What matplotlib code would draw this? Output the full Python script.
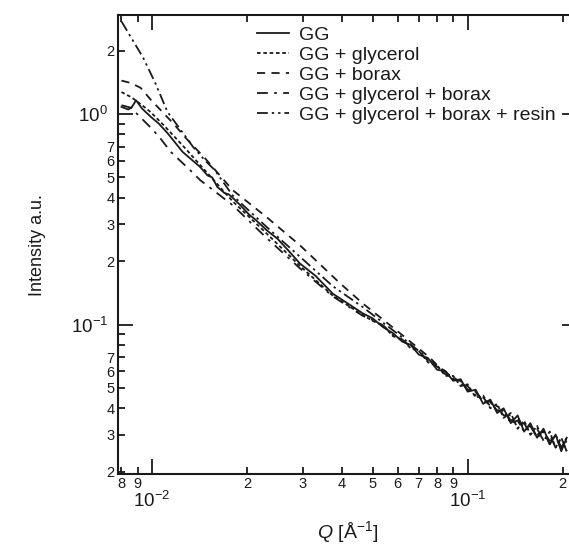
import matplotlib
matplotlib.use('Agg')
import matplotlib.pyplot as plt
from matplotlib.ticker import NullFormatter, NullLocator

plt.rcParams['font.family'] = ['Liberation Sans', 'DejaVu Sans']
plt.rcParams['mathtext.fontset'] = 'custom'
plt.rcParams['mathtext.rm'] = 'Liberation Sans'
plt.rcParams['mathtext.it'] = 'Liberation Sans:italic'

# --------------------------------------------------------------------------------------
# Data

# shared high-Q part, values typed with the visible scatter
qTail = [0.050, 0.054, 0.058, 0.062, 0.066, 0.070, 0.075, 0.080, 0.085, 0.090, 0.095,
         0.100, 0.106, 0.112, 0.118, 0.124, 0.130, 0.137, 0.144, 0.151, 0.158, 0.166,
         0.174, 0.182, 0.190, 0.198, 0.206]

# GG
qGG = [0.0080, 0.0084, 0.0086, 0.0089, 0.0093, 0.0099, 0.0105, 0.0112, 0.0125, 0.0142,
       0.0150, 0.0155, 0.0161, 0.0170, 0.0175, 0.0180, 0.0190, 0.0204, 0.0210, 0.0220,
       0.0231, 0.0250, 0.0270, 0.0294, 0.0330, 0.0374, 0.0410, 0.0465] + qTail
iGG = [1.08, 1.05, 1.07, 1.16, 1.06, 0.97, 0.90, 0.81, 0.66, 0.56,
       0.51, 0.50, 0.45, 0.42, 0.415, 0.40, 0.37, 0.33, 0.32, 0.30,
       0.28, 0.255, 0.225, 0.195, 0.17, 0.14, 0.128, 0.113,
       0.107, 0.097, 0.091, 0.083, 0.080, 0.072, 0.069, 0.061, 0.060, 0.054, 0.055,
       0.048, 0.049, 0.042, 0.044, 0.038, 0.040, 0.034, 0.037, 0.031, 0.034, 0.029,
       0.032, 0.027, 0.030, 0.025, 0.029]

# GG + glycerol
qGly = [0.0080, 0.0086, 0.0093, 0.0099, 0.0110, 0.0127, 0.0147, 0.0180, 0.0231, 0.0294,
        0.0374, 0.0465] + qTail
iGly = [1.27, 1.20, 1.10, 1.02, 0.87, 0.69, 0.54, 0.385, 0.27, 0.19,
        0.137, 0.111,
        0.104, 0.099, 0.088, 0.085, 0.077, 0.075, 0.066, 0.064, 0.057, 0.057, 0.051,
        0.052, 0.045, 0.046, 0.040, 0.042, 0.036, 0.038, 0.032, 0.035, 0.030, 0.033,
        0.028, 0.031, 0.026, 0.029, 0.025]

# GG + borax
qBor = [0.0080, 0.0086, 0.0092, 0.0099, 0.0110, 0.0118, 0.0127, 0.0147, 0.0180, 0.0231,
        0.0294, 0.0394, 0.0465, 0.0596, 0.0758, 0.0815] + qTail[8:]
iBor = [1.44, 1.40, 1.33, 1.17, 0.99, 0.886, 0.777, 0.617, 0.435, 0.323,
        0.238, 0.157, 0.126, 0.0936, 0.0697, 0.0624,
        0.060, 0.055, 0.054, 0.049, 0.048, 0.043, 0.043, 0.039, 0.039, 0.035, 0.036,
        0.032, 0.033, 0.030, 0.031, 0.028, 0.029, 0.026, 0.028]

# GG + glycerol + borax
qGB = [0.0080, 0.00858, 0.00903, 0.00993, 0.0106, 0.01148, 0.0124, 0.0132, 0.0142, 0.0180,
       0.0231, 0.0294, 0.0374, 0.0465] + qTail
iGB = [1.10, 1.07, 0.989, 0.858, 0.769, 0.659, 0.591, 0.541, 0.485, 0.369,
       0.257, 0.185, 0.136, 0.110,
       0.105, 0.099, 0.089, 0.085, 0.078, 0.075, 0.067, 0.064, 0.058, 0.057, 0.052,
       0.051, 0.046, 0.045, 0.041, 0.041, 0.037, 0.037, 0.033, 0.034, 0.030, 0.032,
       0.028, 0.030, 0.026, 0.029, 0.025]

# GG + glycerol + borax + resin
qRes = [0.0080, 0.00937, 0.0102, 0.0112, 0.01253, 0.0135, 0.01468, 0.0158, 0.0180, 0.0231,
        0.0294, 0.0374, 0.0465, 0.0596, 0.0758] + qTail[7:]
iRes = [2.75, 1.85, 1.42, 1.02, 0.812, 0.696, 0.604, 0.541, 0.41, 0.29,
        0.21, 0.152, 0.121, 0.091, 0.068,
        0.063, 0.060, 0.055, 0.054, 0.049, 0.048, 0.043, 0.043, 0.039, 0.039, 0.034,
        0.035, 0.031, 0.033, 0.029, 0.031, 0.027, 0.030, 0.026, 0.029]

labels = ['GG', 'GG + glycerol', 'GG + borax', 'GG + glycerol + borax',
          'GG + glycerol + borax + resin']

xMinor = [0.008, 0.009, 0.02, 0.03, 0.04, 0.05, 0.06, 0.07, 0.08, 0.09, 0.2]
xMinorLab = ['8', '9', '2', '3', '4', '5', '6', '7', '8', '9', '2']
yMinor = [0.02, 0.03, 0.04, 0.05, 0.06, 0.07, 0.08, 0.09,
          0.2, 0.3, 0.4, 0.5, 0.6, 0.7, 0.8, 0.9, 2.0]
yMinorLab = ['2', '3', '4', '5', '6', '7', '', '',
             '2', '3', '4', '5', '6', '7', '', '', '2']

# --------------------------------------------------------------------------------------
# Chart

fig = plt.figure(figsize=(5.69, 5.46), dpi=100)
ax = fig.add_axes([118/569, 1 - 474/546, 1 - 118/569, (474 - 15)/546])

col = '#1a1a1a'
lw = 1.3
ax.plot(qGG, iGG, color=col, lw=lw, ls='-', label=labels[0])
ax.plot(qGly, iGly, color=col, lw=lw, ls=(0, (2.0, 1.5)), label=labels[1])
ax.plot(qBor, iBor, color=col, lw=lw, ls=(0, (4.5, 3.5)), label=labels[2])
ax.plot(qGB, iGB, color=col, lw=lw, ls=(0, (6, 3.5, 1.5, 3.5)), label=labels[3])
ax.plot(qRes, iRes, color=col, lw=lw, ls=(0, (6, 2.2, 1.3, 2.2, 1.3, 2.2)), label=labels[4])

ax.set_xscale('log')
ax.set_yscale('log')
ax.set_xlim(0.0078, 0.2095)
ax.set_ylim(0.0195, 2.95)

# x ticks
ax.set_xticks([0.01, 0.1], labels=[r'$\mathregular{10^{-2}}$', r'$\mathregular{10^{-1}}$'])
ax.set_xticks(xMinor, labels=xMinorLab, minor=True)
# y ticks
ax.set_yticks([0.1, 1.0], labels=[r'$\mathregular{10^{-1}}$', r'$\mathregular{10^{0}}$'])
ax.set_yticks(yMinor, labels=yMinorLab, minor=True)

ax.tick_params(which='major', direction='in', length=11, width=1.3, top=True, right=False,
               labelsize=13.5, pad=12, color=col, labelcolor=col)
ax.tick_params(which='minor', direction='in', length=5, width=1.3, top=True, right=False,
               labelsize=10.5, pad=2.5, color=col, labelcolor=col)
ax.tick_params(axis='y', which='major', pad=7)

for s in ['left', 'bottom', 'top']:
    ax.spines[s].set_linewidth(1.5)
    ax.spines[s].set_color(col)
ax.spines['right'].set_visible(False)

# short marks on the right edge at the decades
ax2 = ax.twinx()
ax2.set_yscale('log')
ax2.set_ylim(ax.get_ylim())
ax2.set_yticks([0.1, 1.0])
ax2.yaxis.set_minor_locator(NullLocator())
ax2.yaxis.set_major_formatter(NullFormatter())
ax2.yaxis.set_minor_formatter(NullFormatter())
ax2.tick_params(direction='in', length=5, width=1.3, color=col)
for s in ax2.spines.values():
    s.set_visible(False)

# labels
fig.text(38/569, 1 - 245/546, 'Intensity a.u.', rotation=90, ha='center', va='center',
         fontsize=13, color=col)
fig.text(348/569, 1 - 532/546, r'$\mathit{Q}$ [Å$^{\mathregular{-1}}$]', ha='center',
         va='center', fontsize=14, color=col)

leg = ax.legend(loc='upper left', bbox_to_anchor=((257 - 118)/451, 1 - 11/459), frameon=False,
                fontsize=14, handlelength=1.65, handletextpad=0.5, labelspacing=0.13,
                borderpad=0, borderaxespad=0)
for t in leg.get_texts():
    t.set_color(col)

fig.savefig('out.png', dpi=100)
